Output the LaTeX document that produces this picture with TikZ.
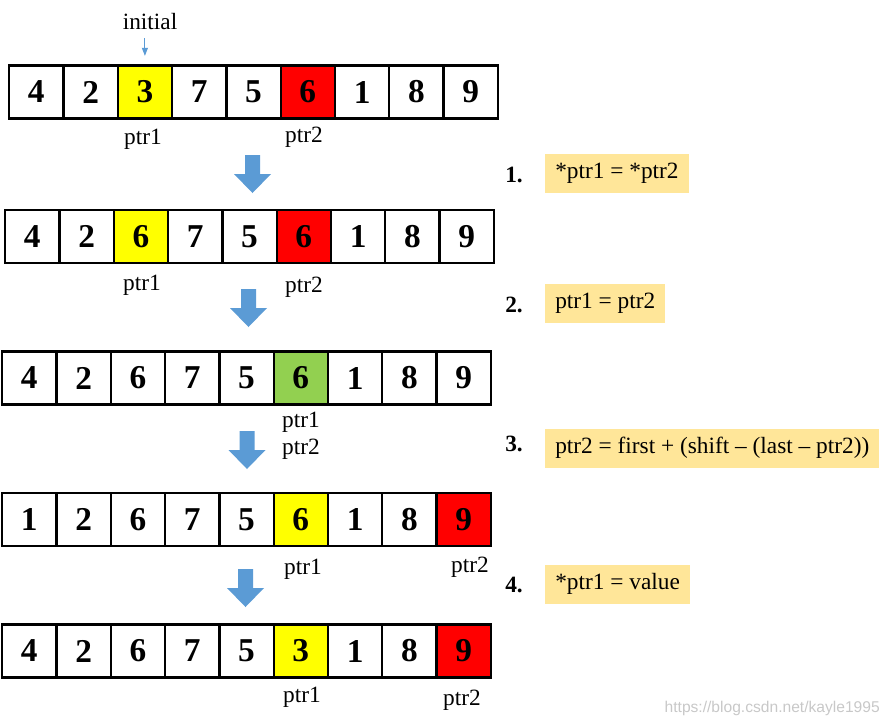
\documentclass[tikz,border=0pt]{standalone}
\usepackage{fontspec}
\setmainfont{Liberation Serif}
\setsansfont{Liberation Sans}
\usetikzlibrary{arrows.meta}
\definecolor{ptryellow}{HTML}{FFFF00}
\definecolor{ptrred}{HTML}{FF0000}
\definecolor{ptrgreen}{HTML}{92D050}
\definecolor{arrowblue}{HTML}{5B9BD5}
\definecolor{boxgold}{HTML}{FFE699}
\definecolor{watergray}{HTML}{C8C8C8}

\begin{document}
\begin{tikzpicture}[x=0.75pt, y=-0.75pt,
    cell/.style={draw, line width=1.7pt, inner sep=0pt, minimum width=40.7pt, minimum height=39.75pt, font=\fontsize{25}{25}\selectfont\bfseries},
    ptrlabel/.style={inner sep=0pt, font=\fontsize{17.5}{17.5}\selectfont},
    stepnum/.style={inner sep=0pt, anchor=west, font=\fontsize{17.5}{17.5}\selectfont\bfseries},
    stepbox/.style={fill=boxgold, inner xsep=7.5pt, inner ysep=0pt, minimum height=29.25pt, anchor=west, font=\fontsize{17.5}{17.5}\selectfont},
    bigarrow/.pic={\fill[arrowblue] (-7.5,0) -- (7.5,0) -- (7.5,19) -- (18.5,19) -- (0,38) -- (-18.5,19) -- (-7.5,19) -- cycle;}]
      \useasboundingbox (0,0) rectangle (893,726);

      % arrays
      \foreach \v/\c [count=\i] in {4/white,2/white,3/ptryellow,7/white,5/white,6/ptrred,1/white,8/white,9/white}
        \node[cell, fill=\c] (r1c\i) at ({36.3+(\i-1)*54.3}, 92) {\v};
      \foreach \v/\c [count=\i] in {4/white,2/white,6/ptryellow,7/white,5/white,6/ptrred,1/white,8/white,9/white}
        \node[cell, fill=\c] (r2c\i) at ({32.3+(\i-1)*54.3}, 236.5) {\v};
      \foreach \v/\c [count=\i] in {4/white,2/white,6/white,7/white,5/white,6/ptrgreen,1/white,8/white,9/white}
        \node[cell, fill=\c] (r3c\i) at ({29.3+(\i-1)*54.3}, 378) {\v};
      \foreach \v/\c [count=\i] in {1/white,2/white,6/white,7/white,5/white,6/ptryellow,1/white,8/white,9/ptrred}
        \node[cell, fill=\c] (r4c\i) at ({29.3+(\i-1)*54.3}, 519.5) {\v};
      \foreach \v/\c [count=\i] in {4/white,2/white,6/white,7/white,5/white,3/ptryellow,1/white,8/white,9/ptrred}
        \node[cell, fill=\c] (r5c\i) at ({29.3+(\i-1)*54.3}, 651) {\v};

      % pointer labels
      \node[ptrlabel] (initial) at (150, 22) {initial};
      \draw[arrowblue, line width=0.8pt, shorten <=6pt, shorten >=6.4pt, -{Triangle[width=4.5pt, length=6pt]}] (initial.south -| r1c3.north) -- (r1c3.north);
      \node[ptrlabel] (r1ptr1) at (143, 139) {ptr1};
      \node[ptrlabel] (r1ptr2) at (304, 137.5) {ptr2};
      \node[ptrlabel] (r2ptr1) at (142, 285) {ptr1};
      \node[ptrlabel] (r2ptr2) at (304, 287.5) {ptr2};
      \node[ptrlabel] (r3ptr1) at (301, 422.5) {ptr1};
      \node[ptrlabel] (r3ptr2) at (301, 449.5) {ptr2};
      \node[ptrlabel] (r4ptr1) at (303, 569.5) {ptr1};
      \node[ptrlabel] (r4ptr2) at (470, 567.5) {ptr2};
      \node[ptrlabel] (r5ptr1) at (302, 697.5) {ptr1};
      \node[ptrlabel] (r5ptr2) at (462, 700.5) {ptr2};

      % block arrows
      \pic at (252.5, 155) {bigarrow};
      \pic at (248.5, 289) {bigarrow};
      \pic at (247, 431) {bigarrow};
      \pic at (245.5, 569) {bigarrow};

      % steps
      \node[stepnum] (num1) at (505, 175) {1.};
      \node[stepnum] (num2) at (505, 305) {2.};
      \node[stepnum] (num3) at (505, 444) {3.};
      \node[stepnum] (num4) at (505, 585) {4.};
      \node[stepbox] (step1) at (545, 173.5) {*ptr1 = *ptr2};
      \node[stepbox] (step2) at (545, 303.5) {ptr1 = ptr2};
      \node[stepbox] (step3) at (545, 448) {ptr2 = first + (shift – (last – ptr2))};
      \node[stepbox] (step4) at (545, 584) {*ptr1 = value};

      \node[anchor=east, inner sep=0pt, text=watergray, font=\sffamily\fontsize{11.7}{11.7}\selectfont] (watermark) at (880, 708) {https://blog.csdn.net/kayle1995};
    \end{tikzpicture}
\end{document}
